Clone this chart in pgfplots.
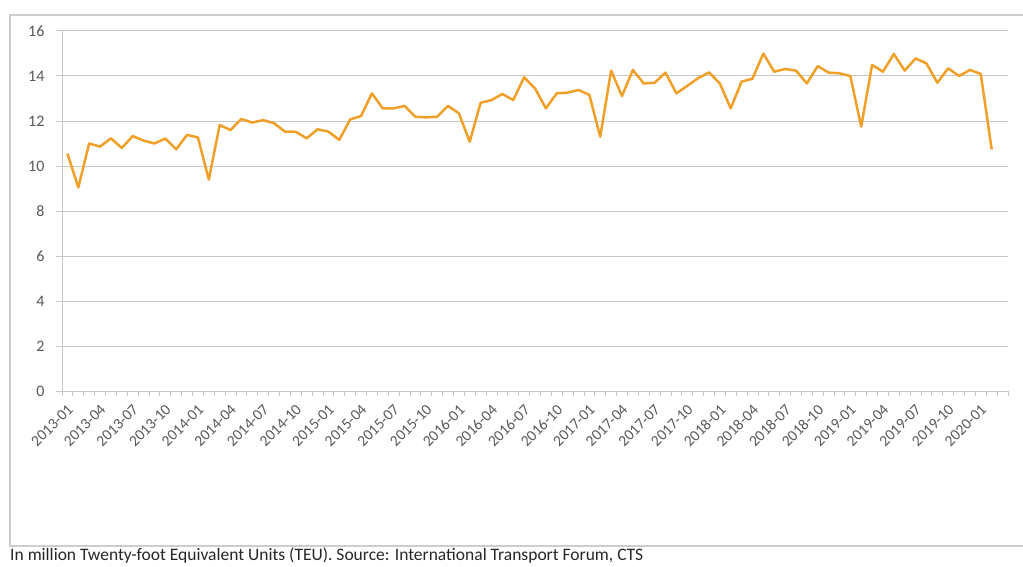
\documentclass[border=0pt]{standalone}
\usepackage{pgfplots}
\pgfplotsset{compat=1.18}
\usepackage{fontspec}
\setmainfont{Carlito}
\definecolor{lineor}{RGB}{240,160,40}
\definecolor{txt}{RGB}{89,89,89}
\definecolor{gridc}{RGB}{200,200,200}
\definecolor{framec}{RGB}{205,205,205}
\begin{document}
\begin{tikzpicture}
\useasboundingbox (0,0) rectangle (1023pt,566pt);
\draw[framec, line width=1.2pt] (10pt,20pt) rectangle (1040pt,551pt);
\begin{axis}[
  at={(62pt,175pt)}, anchor=south west,
  scale only axis, width=946pt, height=360pt,
  xmin=-0.5, xmax=86.5, ymin=0, ymax=16,
  ytick={0,2,...,16},
  xtick={0,3,...,84},
  xticklabels={2013-01,2013-04,2013-07,2013-10,2014-01,2014-04,2014-07,2014-10,2015-01,2015-04,2015-07,2015-10,2016-01,2016-04,2016-07,2016-10,2017-01,2017-04,2017-07,2017-10,2018-01,2018-04,2018-07,2018-10,2019-01,2019-04,2019-07,2019-10,2020-01},
  minor xtick={-0.5,0.5,...,86.5},
  axis lines=left,
  axis line style={-, draw=gridc, line width=1pt},
  ymajorgrids, grid style={gridc, line width=1pt},
  tick align=outside,
  major tick length=6pt, minor tick length=5pt,
  x tick style={draw=none},
  minor x tick style={draw=gridc, line width=0.8pt},
  y tick style={draw=gridc, line width=1pt},
  /pgf/number format/assume math mode=true,
  yticklabel style={font=\fontsize{16}{18}\selectfont, text=txt, xshift=-8pt},
  xticklabel style={font=\fontsize{15.5}{18}\selectfont, text=txt, rotate=45, anchor=north east, inner sep=1pt, yshift=-3pt, xshift=-4pt},
  clip=false,
]
\addplot[lineor, line width=2.5pt, line join=round] coordinates {
(0,10.55)(1,9.05)(2,11.0)(3,10.86)(4,11.23)(5,10.8)(6,11.33)(7,11.13)(8,11.0)(9,11.22)
(10,10.74)(11,11.38)(12,11.27)(13,9.4)(14,11.82)(15,11.6)(16,12.09)(17,11.93)(18,12.04)(19,11.9)
(20,11.53)(21,11.52)(22,11.23)(23,11.63)(24,11.53)(25,11.16)(26,12.07)(27,12.22)(28,13.23)(29,12.56)
(30,12.56)(31,12.67)(32,12.19)(33,12.16)(34,12.19)(35,12.67)(36,12.34)(37,11.08)(38,12.81)(39,12.93)
(40,13.2)(41,12.93)(42,13.94)(43,13.45)(44,12.56)(45,13.23)(46,13.26)(47,13.38)(48,13.16)(49,11.3)
(50,14.24)(51,13.11)(52,14.27)(53,13.67)(54,13.7)(55,14.15)(56,13.23)(57,13.56)(58,13.9)(59,14.16)
(60,13.67)(61,12.56)(62,13.75)(63,13.88)(64,15.0)(65,14.19)(66,14.31)(67,14.24)(68,13.67)(69,14.44)
(70,14.15)(71,14.12)(72,14.0)(73,11.75)(74,14.49)(75,14.19)(76,14.98)(77,14.24)(78,14.78)(79,14.56)
(80,13.7)(81,14.34)(82,14.0)(83,14.27)(84,14.09)(85,10.74)
};
\end{axis}
\node[anchor=base west, inner sep=0pt, text=black!85, font=\fontsize{17.5}{20}\selectfont] at (10pt,6pt) {In million Twenty-foot Equivalent Units (TEU). Source: International Transport Forum, CTS};
\end{tikzpicture}
\end{document}
